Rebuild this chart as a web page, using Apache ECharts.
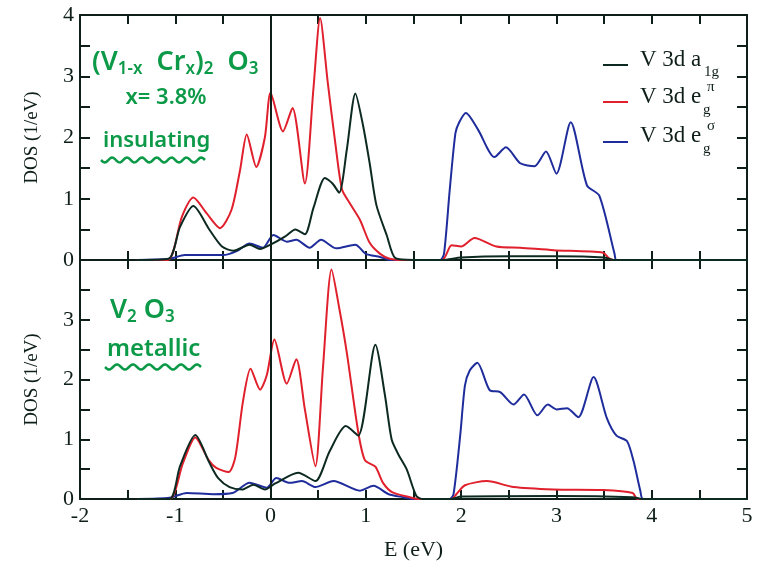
<!DOCTYPE html>
<html>
<head>
<meta charset="utf-8">
<script src="https://cdn.jsdelivr.net/npm/echarts@6/dist/echarts.min.js"></script>
<style>
  html, body { margin: 0; padding: 0; background: #fff; }
  #main { width: 763px; height: 562px; }
</style>
</head>
<body>
<div id="main"></div>
<script>
// 上图: (V1-x Crx)2 O3, x = 3.8%, insulating
var insA1gE = [-1.4, -1.07, -0.95, -0.81, -0.64, -0.51, -0.39, -0.22, -0.11, 0.0, 0.15, 0.26, 0.36, 0.45, 0.57, 0.65, 0.72, 0.8, 0.89, 0.97, 1.04, 1.11, 1.22, 1.31, 1.5, 1.8, 2.0, 2.5, 3.0, 3.5, 3.6, 5];
var insA1g  = [0, 0.02, 0.54, 0.88, 0.49, 0.22, 0.15, 0.25, 0.18, 0.25, 0.38, 0.5, 0.42, 0.85, 1.34, 1.25, 1.1, 1.8, 2.72, 2.2, 1.58, 0.9, 0.4, 0.03, 0, 0, 0.04, 0.06, 0.06, 0.04, 0, 0];

var insEpiE = [-1.4, -1.08, -0.93, -0.81, -0.67, -0.53, -0.41, -0.32, -0.25, -0.15, -0.06, 0.0, 0.13, 0.23, 0.36, 0.45, 0.52, 0.6, 0.68, 0.75, 0.83, 0.94, 1.04, 1.15, 1.25, 1.4, 1.8, 1.9, 2.0, 2.14, 2.37, 2.62, 2.97, 3.49, 3.55, 3.6, 5];
var insEpi  = [0, 0, 0.71, 1.02, 0.76, 0.52, 0.82, 1.47, 2.05, 1.52, 2.0, 2.73, 2.1, 2.48, 1.25, 2.8, 3.95, 2.9, 1.9, 1.15, 0.93, 0.65, 0.28, 0.1, 0.02, 0, 0, 0.24, 0.22, 0.36, 0.22, 0.2, 0.16, 0.12, 0.03, 0, 0];

var insEsigE = [-1.4, -1.06, -0.9, -0.5, -0.35, -0.22, -0.08, 0.03, 0.17, 0.27, 0.41, 0.53, 0.69, 0.89, 1.0, 1.15, 1.25, 1.78, 1.82, 1.88, 1.94, 1.98, 2.05, 2.18, 2.35, 2.47, 2.62, 2.77, 2.89, 3.0, 3.15, 3.32, 3.45, 3.61, 3.63, 5];
var insEsig  = [0, 0.02, 0.08, 0.08, 0.15, 0.27, 0.2, 0.41, 0.3, 0.33, 0.2, 0.33, 0.19, 0.25, 0.1, 0.05, 0, 0, 0.1, 1.14, 2.07, 2.25, 2.4, 2.12, 1.68, 1.84, 1.58, 1.53, 1.77, 1.41, 2.25, 1.22, 1.05, 0.1, 0, 0];

// 下图: V2 O3, metallic
var metA1gE = [-1.4, -1.06, -0.95, -0.79, -0.64, -0.55, -0.43, -0.3, -0.18, -0.06, 0.05, 0.29, 0.47, 0.62, 0.79, 0.92, 1.1, 1.2, 1.27, 1.34, 1.43, 1.53, 1.6, 1.9, 2.0, 3.0, 3.8, 3.9, 5];
var metA1g  = [0, 0, 0.55, 1.07, 0.6, 0.35, 0.2, 0.16, 0.24, 0.16, 0.26, 0.44, 0.3, 0.8, 1.22, 1.06, 2.58, 1.74, 1.0, 0.75, 0.49, 0.05, 0, 0, 0.04, 0.05, 0.03, 0, 0];

var metEpiE = [-1.4, -1.06, -0.92, -0.79, -0.65, -0.57, -0.44, -0.37, -0.29, -0.21, -0.11, -0.04, 0.04, 0.17, 0.27, 0.36, 0.47, 0.55, 0.64, 0.72, 0.8, 0.92, 0.99, 1.1, 1.18, 1.28, 1.46, 1.55, 1.9, 1.95, 2.04, 2.27, 2.55, 2.97, 3.49, 3.8, 3.85, 5];
var metEpi  = [0, 0, 0.6, 1.03, 0.65, 0.52, 0.45, 0.7, 1.63, 2.18, 1.83, 2.07, 2.67, 1.93, 2.34, 1.5, 0.55, 2.2, 3.84, 3.2, 2.45, 1.12, 0.65, 0.54, 0.27, 0.11, 0.03, 0, 0, 0.08, 0.23, 0.3, 0.2, 0.16, 0.15, 0.1, 0, 0];

var metEsigE = [-1.4, -1.06, -0.88, -0.6, -0.4, -0.22, -0.04, 0.06, 0.2, 0.33, 0.47, 0.66, 0.94, 1.08, 1.24, 1.39, 1.5, 1.88, 1.92, 1.99, 2.04, 2.09, 2.17, 2.3, 2.41, 2.55, 2.66, 2.8, 2.91, 3.0, 3.11, 3.23, 3.39, 3.53, 3.63, 3.74, 3.81, 3.88, 3.91, 5];
var metEsig  = [0, 0.02, 0.1, 0.08, 0.1, 0.27, 0.19, 0.35, 0.27, 0.3, 0.2, 0.3, 0.14, 0.22, 0.08, 0.03, 0, 0, 0.08, 1.06, 1.9, 2.15, 2.28, 1.82, 1.79, 1.58, 1.75, 1.4, 1.58, 1.5, 1.52, 1.37, 2.04, 1.35, 1.06, 0.97, 0.63, 0.14, 0, 0];

var seriesNames = ['V 3d a1g', 'V 3d eg\u03c0', 'V 3d eg\u03c3'];
var colors = ['#0d2a22', '#e0202c', '#1f2d9c'];

var serif = '"Liberation Serif", "DejaVu Serif", serif';
var hand = '"Noto Sans", "Open Sans", sans-serif';
var green = '#0c9a48';
var axisColor = '#0e1e18';

function zip(xs, ys) {
    var out = [];
    for (var i = 0; i < xs.length; i++) out.push([xs[i], ys[i]]);
    return out;
}

function xAxisOf(grid, pos, labels) {
    return {
        type: 'value', gridIndex: grid, position: pos,
        min: -2, max: 5, interval: 0.5,
        axisLine: { show: true, onZero: false, lineStyle: { color: axisColor, width: 2 } },
        axisTick: { show: true, inside: true, length: 9, lineStyle: { color: axisColor, width: 2 } },
        axisLabel: {
            show: labels, margin: 6, color: axisColor, fontFamily: serif, fontSize: 22,
            formatter: function (v) { return v % 1 === 0 ? String(v) : ''; }
        },
        splitLine: { show: false }
    };
}

function yAxisOf(grid, pos, labels, hideTop) {
    return {
        type: 'value', gridIndex: grid, position: pos,
        min: 0, max: 4, interval: 0.5,
        name: labels ? 'DOS (1/eV)' : '',
        nameLocation: 'middle', nameRotate: 90, nameGap: 38,
        nameTextStyle: { color: axisColor, fontFamily: serif, fontSize: 19 },
        axisLine: { show: true, onZero: false, lineStyle: { color: axisColor, width: 2 } },
        axisTick: { show: true, inside: true, length: 10, lineStyle: { color: axisColor, width: 2 } },
        axisLabel: {
            show: labels, margin: 6, color: axisColor, fontFamily: serif, fontSize: 22,
            formatter: function (v) {
                if (v % 1 !== 0) return '';
                if (hideTop && v === 4) return '';
                return String(v);
            }
        },
        splitLine: { show: false }
    };
}

function curve(name, data, color, xi, yi, withZero) {
    var s = {
        name: name, type: 'line', data: data,
        xAxisIndex: xi, yAxisIndex: yi,
        showSymbol: false, smooth: 0.25,
        lineStyle: { color: color, width: 2 },
        itemStyle: { color: color },
        z: color === colors[0] ? 4 : 3,
        animation: false
    };
    if (withZero) {
        s.markLine = {
            silent: true, symbol: 'none', label: { show: false },
            lineStyle: { color: axisColor, width: 2, type: 'solid' },
            data: [{ xAxis: 0 }]
        };
    }
    return s;
}

function wave(x0, x1, y, amp, n) {
    var pts = [];
    var steps = 60;
    for (var i = 0; i <= steps; i++) {
        var t = i / steps;
        pts.push([x0 + (x1 - x0) * t, y + amp * Math.sin(t * n * 2 * Math.PI)]);
    }
    return pts;
}

function txt(x, y, text, size, fam, color, align, weight) {
    return {
        type: 'text', x: x, y: y, z: 10,
        style: {
            text: text, fill: color, font: (weight || 'normal') + ' ' + size + 'px ' + fam,
            align: align || 'left', verticalAlign: 'middle'
        }
    };
}

var handRich = {
    a: { fontSize: 27, fontFamily: hand, fontWeight: 600, fill: green },
    s: { fontSize: 17, fontFamily: hand, fontWeight: 600, fill: green, padding: [15, 0, 0, 0] }
};

var graphics = [
    // legend
    { type: 'line', shape: { x1: 603, y1: 65, x2: 628, y2: 65 }, style: { stroke: colors[0], lineWidth: 2 } },
    { type: 'line', shape: { x1: 603, y1: 102, x2: 628, y2: 102 }, style: { stroke: colors[1], lineWidth: 2 } },
    { type: 'line', shape: { x1: 603, y1: 142, x2: 628, y2: 142 }, style: { stroke: colors[2], lineWidth: 2 } },
    txt(640, 60, 'V 3d a', 23, serif, axisColor),
    txt(704, 72, '1g', 15, serif, axisColor),
    txt(640, 97, 'V 3d e', 23, serif, axisColor),
    txt(703, 110, 'g', 15, serif, axisColor),
    txt(707, 87, '\u03c0', 15, serif, axisColor),
    txt(640, 136, 'V 3d e', 23, serif, axisColor),
    txt(703, 149, 'g', 15, serif, axisColor),
    txt(707, 126, '\u03c3', 15, serif, axisColor),
    // handwritten notes
    {
        type: 'text', x: 92, y: 62, z: 10,
        style: { text: '{a|(V}{s|1-x}{a|  Cr}{s|x}{a|)}{s|2}{a|  O}{s|3}', rich: handRich, verticalAlign: 'middle' }
    },
    txt(166, 98, 'x= 3.8%', 22, hand, green, 'center', 600),
    txt(103, 141, 'insulating', 22, hand, green, 'left', 600),
    { type: 'polyline', z: 10, shape: { points: wave(101, 205, 160, 2.5, 7) }, style: { stroke: green, lineWidth: 2.5, fill: null } },
    {
        type: 'text', x: 110, y: 310, z: 10,
        style: { text: '{a|V}{s|2}{a| O}{s|3}', rich: handRich, verticalAlign: 'middle' }
    },
    txt(107, 349, 'metallic', 24, hand, green, 'left', 600),
    { type: 'polyline', z: 10, shape: { points: wave(105, 201, 367, 2.5, 6) }, style: { stroke: green, lineWidth: 2.5, fill: null } }
];

var myChart = echarts.init(document.getElementById('main'), null, { renderer: 'canvas' });

var bottomX = xAxisOf(1, 'bottom', true);
bottomX.name = 'E (eV)';
bottomX.nameLocation = 'middle';
bottomX.nameGap = 40;
bottomX.nameTextStyle = { color: axisColor, fontFamily: serif, fontSize: 22 };

myChart.setOption({
    backgroundColor: '#fff',
    animation: false,
    grid: [
        { left: 80, top: 15, width: 667, height: 245 },
        { left: 80, top: 260, width: 667, height: 245 }
    ],
    xAxis: [xAxisOf(0, 'bottom', false), xAxisOf(0, 'top', false), bottomX, xAxisOf(1, 'top', false)],
    yAxis: [yAxisOf(0, 'left', true, false), yAxisOf(0, 'right', false, false),
            yAxisOf(1, 'left', true, true), yAxisOf(1, 'right', false, true)],
    series: [
        curve(seriesNames[2], zip(insEsigE, insEsig), colors[2], 0, 0, true),
        curve(seriesNames[1], zip(insEpiE, insEpi), colors[1], 0, 0, false),
        curve(seriesNames[0], zip(insA1gE, insA1g), colors[0], 0, 0, false),
        curve(seriesNames[2], zip(metEsigE, metEsig), colors[2], 2, 2, true),
        curve(seriesNames[1], zip(metEpiE, metEpi), colors[1], 2, 2, false),
        curve(seriesNames[0], zip(metA1gE, metA1g), colors[0], 2, 2, false)
    ],
    graphic: graphics
});
</script>
</body>
</html>
